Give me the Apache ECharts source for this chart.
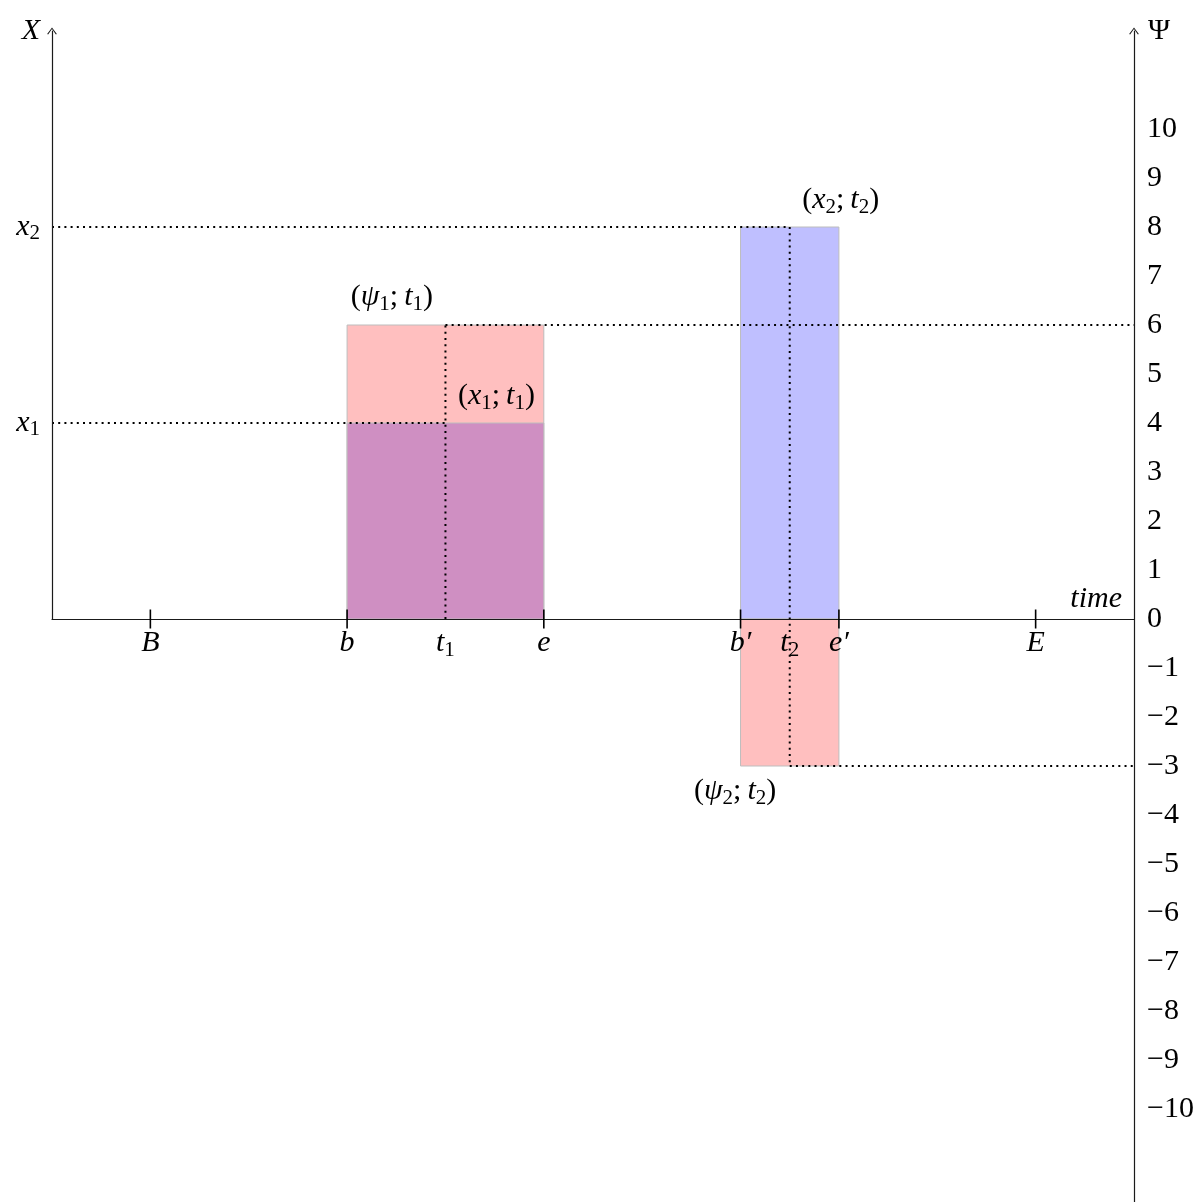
<!DOCTYPE html>
<html><head><meta charset="utf-8">
<script src="https://cdn.jsdelivr.net/npm/echarts@6/dist/echarts.min.js"></script>
<style>html,body{margin:0;padding:0;background:#fff}#c{width:1204px;height:1202px}</style>
</head><body><div id="c"></div>
<script>
// ---- data ----
const timeTickValues = [1, 3, 4, 5, 7, 7.5, 8, 10];
const timeTickLabels = ['{i|B}', '{i|b}', '{i|t}{s|1}', '{i|e}', '{i|b\u2032}', '{i|t}{s|2}', '{i|e\u2032}', '{i|E}'];
const majorTickValues = [1, 3, 5, 7, 8, 10];
const xLevelValues = [4, 8];
const xLevelLabels = ['{i|x}{s|1}', '{i|x}{s|2}'];
const psiTickValues = [-10, -9, -8, -7, -6, -5, -4, -3, -2, -1, 0, 1, 2, 3, 4, 5, 6, 7, 8, 9, 10];
// rectangles: [start, end, low, high]
const rects = [[3, 5, 0, 6], [3, 5, 0, 4], [7, 8, 0, 8], [7, 8, -3, 0]];
// dotted guide segments
const guides = [
  [[0, 4], [4, 4]],
  [[4, 0], [4, 6]],
  [[4, 6], [11, 6]],
  [[0, 8], [7.5, 8]],
  [[7.5, 8], [7.5, -3]],
  [[7.5, -3], [11, -3]]
];
const pointCoords = [[4, 6], [4, 4], [7.5, 8], [7.5, -3]];
const pointTexts = [
  '{n|(}{i|\u03c8}{s|1}{n|;\u2009}{i|t}{s|1}{n|)}',
  '{n|(}{i|x}{s|1}{n|;\u2009}{i|t}{s|1}{n|)}',
  '{n|(}{i|x}{s|2}{n|;\u2009}{i|t}{s|2}{n|)}',
  '{n|(}{i|\u03c8}{s|2}{n|;\u2009}{i|t}{s|2}{n|)}'
];

// ---- styles ----
const rectColors = ['#ffbfbf', '#cf8fc2', '#bfbfff', '#ffbfbf'];
const labelPlacement = [
  {position: [-12, -27], align: 'right'},
  {position: [13, -26], align: 'left'},
  {position: [13, -26], align: 'left'},
  {position: [-13, 26], align: 'right'}
];
const F = 'Liberation Serif';
const FS = 30;
const rich = {
  i: {fontFamily: F, fontStyle: 'italic', fontSize: FS, lineHeight: 34, color: '#000'},
  n: {fontFamily: F, fontSize: FS, lineHeight: 34, color: '#000'},
  s: {fontFamily: F, fontSize: 21, lineHeight: 20, verticalAlign: 'bottom', color: '#000'}
};
const arrowPath = 'path://M0,6 L4.5,0 L9,6 L8.1,6.5 L4.5,1.5 L0.9,6.5 Z';
const axisColor = '#1a1a1a';

const chart = echarts.init(document.getElementById('c'), null, {renderer: 'canvas'});

const series = [];
series.push({
  type: 'custom',
  xAxisIndex: 0, yAxisIndex: 0,
  z: 1,
  data: rects,
  renderItem: function (params, api) {
    const x0 = api.value(0), x1 = api.value(1), y0 = api.value(2), y1 = api.value(3);
    const pa = api.coord([x0, y1]);
    const pb = api.coord([x1, y0]);
    return {
      type: 'rect',
      shape: {x: pa[0], y: pa[1], width: pb[0] - pa[0], height: pb[1] - pa[1]},
      style: {fill: rectColors[params.dataIndex], stroke: '#bdbdbd', lineWidth: 1}
    };
  }
});
guides.forEach(function (seg) {
  series.push({
    type: 'line',
    xAxisIndex: 0, yAxisIndex: 0,
    z: 3,
    data: seg,
    symbol: 'none',
    silent: true,
    animation: false,
    lineStyle: {color: '#000', width: 2, type: [2, 4.2]}
  });
});
// tick marks on the time axis
series.push({
  type: 'scatter',
  xAxisIndex: 0, yAxisIndex: 0,
  z: 6,
  symbol: 'rect',
  symbolSize: [1.6, 19],
  itemStyle: {color: '#000', opacity: 1},
  silent: true,
  data: majorTickValues.map(function (v) { return [v, 0]; })
});
// time axis labels
series.push({
  type: 'scatter',
  xAxisIndex: 0, yAxisIndex: 0,
  z: 7,
  symbolSize: 1,
  itemStyle: {color: 'rgba(0,0,0,0)', opacity: 1},
  silent: true,
  data: timeTickValues.map(function (v, k) {
    return {
      value: [v, 0],
      label: {
        show: true,
        position: [0.5, 8],
        align: 'center',
        verticalAlign: 'top',
        color: '#000',
        formatter: timeTickLabels[k],
        rich: rich
      }
    };
  })
});
// point labels
series.push({
  type: 'scatter',
  xAxisIndex: 0, yAxisIndex: 0,
  z: 7,
  symbolSize: 1,
  itemStyle: {color: 'rgba(0,0,0,0)', opacity: 1},
  silent: true,
  data: pointCoords.map(function (c, k) {
    return {
      value: c,
      label: {
        show: true,
        position: labelPlacement[k].position,
        align: labelPlacement[k].align,
        verticalAlign: 'middle',
        color: '#000',
        formatter: pointTexts[k],
        rich: rich
      }
    };
  })
});

chart.setOption({
  animation: false,
  backgroundColor: '#fff',
  grid: [
    {left: 52, top: 31, width: 1082, height: 1176, containLabel: false, outerBoundsMode: 'none'},
    {left: 52, top: 31, width: 1082, height: 588, containLabel: false, outerBoundsMode: 'none'}
  ],
  xAxis: [
    {
      type: 'value', gridIndex: 0, min: 0, max: 11, z: 4,
      axisLine: {show: true, onZero: true, lineStyle: {color: axisColor, width: 1.2}},
      axisTick: {show: false},
      splitLine: {show: false},
      axisLabel: {show: false},
      name: 'time',
      nameLocation: 'end',
      nameGap: -12,
      nameMoveOverlap: false,
      nameTextStyle: {fontFamily: F, fontStyle: 'italic', fontSize: FS, color: '#000', align: 'right', verticalAlign: 'bottom', padding: [0, 0, 5, 0]}
    },
    {type: 'value', gridIndex: 1, min: 0, max: 11, show: false}
  ],
  yAxis: [
    {
      type: 'value', gridIndex: 0, min: -12, max: 12, position: 'right', z: 4,
      axisLine: {show: true, onZero: false, lineStyle: {color: axisColor, width: 1.2}, symbol: ['none', arrowPath], symbolSize: [10, 7]},
      axisTick: {show: false},
      splitLine: {show: false},
      axisLabel: {
        show: true,
        customValues: psiTickValues,
        margin: 13,
        fontFamily: F, fontSize: FS, color: '#000',
        formatter: function (v) { return v < 0 ? '\u2212' + Math.abs(v) : String(v); }
      },
      name: '\u03a8',
      nameLocation: 'end',
      nameGap: 0,
      nameMoveOverlap: false,
      nameTextStyle: {fontFamily: F, fontSize: FS, color: '#000', align: 'left', verticalAlign: 'middle', padding: [0, 0, 0, 14]}
    },
    {
      type: 'value', gridIndex: 1, min: 0, max: 12, position: 'left', z: 4,
      axisLine: {show: true, onZero: false, lineStyle: {color: axisColor, width: 1.2}, symbol: ['none', arrowPath], symbolSize: [10, 7]},
      axisTick: {show: false},
      splitLine: {show: false},
      axisLabel: {
        show: true,
        customValues: xLevelValues,
        margin: 12,
        formatter: function (v) {
          const k = xLevelValues.indexOf(v);
          return k >= 0 ? xLevelLabels[k] : '';
        },
        rich: rich
      },
      name: 'X',
      nameLocation: 'end',
      nameGap: 0,
      nameMoveOverlap: false,
      nameTextStyle: {fontFamily: F, fontStyle: 'italic', fontSize: FS, color: '#000', align: 'right', verticalAlign: 'middle', padding: [0, 12, 0, 0]}
    }
  ],
  series: series
});
</script>
</body></html>
